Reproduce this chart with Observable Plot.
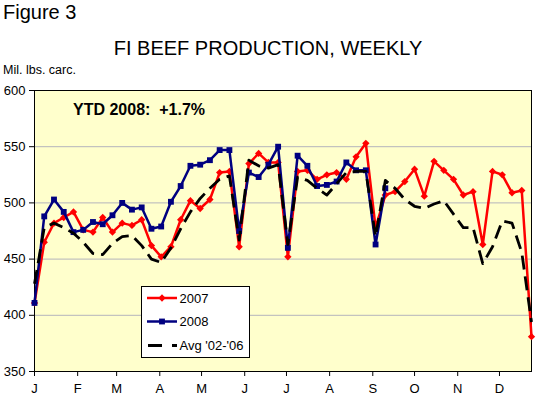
<!DOCTYPE html>
<html><head><meta charset="utf-8">
<script src="https://cdn.jsdelivr.net/npm/d3@7"></script>
<script src="https://cdn.jsdelivr.net/npm/@observablehq/plot@0.6"></script>
<style>
body{margin:0;background:#fff}
#chart{position:relative;width:539px;height:399px}
</style>
</head><body><div id="chart"></div>
<script>
// ---- data (Mil. lbs. carcass, weekly) ----
const monthLabels = ["J","F","M","A","M","J","J","A","S","O","N","D"];
const monthStartDays = [0,31,59,90,120,151,181,212,243,273,304,334];
const y2007 = [411,465,482,487,492,476,474,487,474,482,480,485,462,452,461,485,502,495,503,527,528,461,535,544,536,536,452,528,529,521,525,527,521,541,553,478,507,510,519,530,506,537,529,521,507,510,463,528,525,509,511,381];
const y2008 = [411,488,503,492,474,476,483,481,489,500,494,496,477,479,501,515,533,534,538,547,547,475,527,523,534,550,460,542,533,515,516,519,536,529,529,463,513];
const yAvg  = [428,478,482,478,473,465,455,454,464,470,471,462,450,447,460,477,492,504,513,521,524,467,538,533,531,534,463,523,520,513,507,517,527,528,528,470,520,513,503,497,495,499,502,490,478,478,446,461,484,482,456,394];
const yTicks = [350,400,450,500,550,600];
const gridValues = [400,450,500,550];
const seriesNames = ["2007","2008","Avg '02-'06"];
const ytdText = "YTD 2008:  +1.7%";

const rows = s => s.map((v,i) => ({week:i, value:v}));
const monthPos = monthStartDays.map(d => d/7);
const labelAt = new Map(monthPos.map((p,i) => [p, monthLabels[i]]));

const RED = "#ff0000", NAVY = "#000080";
const FONT = "'Liberation Sans', Arial, sans-serif";

const svg = Plot.plot({
  width: 539, height: 399,
  marginLeft: 34, marginRight: 8, marginTop: 90, marginBottom: 28,
  style: {fontFamily: FONT, fontSize: "13px", color: "#000", background: "#fff", overflow: "visible"},
  x: {domain: [0, 51]},
  y: {domain: [350, 600]},
  marks: [
    Plot.frame({fill: "#ffffcc", stroke: null}),
    Plot.ruleY(gridValues, {stroke: "#b4b4bc", strokeWidth: 1}),
    Plot.frame({stroke: "#000", strokeWidth: 1}),
    Plot.axisY({ticks: yTicks, tickSize: 5, tickPadding: 4, label: null, fontSize: 13}),
    Plot.axisX({ticks: monthPos, tickFormat: d => labelAt.get(d), tickSize: 5, tickPadding: 7, label: null, fontSize: 13}),
    Plot.line(rows(y2007), {x: "week", y: "value", stroke: RED, strokeWidth: 2.5}),
    Plot.dot(rows(y2007), {x: "week", y: "value", symbol: "diamond2", r: 3.3, fill: RED, stroke: null}),
    Plot.line(rows(y2008), {x: "week", y: "value", stroke: NAVY, strokeWidth: 2.5}),
    Plot.dot(rows(y2008), {x: "week", y: "value", symbol: "square", r: 3.3, fill: NAVY, stroke: null}),
    Plot.line(rows(yAvg), {x: "week", y: "value", stroke: "#000", strokeWidth: 2.8, strokeDasharray: "14,7", strokeLinecap: "butt"})
  ]
});
document.getElementById("chart").appendChild(svg);

const g = d3.select(svg).append("g").attr("font-family", FONT).attr("fill", "#000").attr("text-anchor", "start");
g.append("text").attr("x", 3).attr("y", 19).attr("font-size", 20).text("Figure 3");
g.append("text").attr("x", 268).attr("y", 54.5).attr("text-anchor", "middle").attr("font-size", 20).text("FI BEEF PRODUCTION, WEEKLY");
g.append("text").attr("x", 3).attr("y", 74).attr("font-size", 12.5).text("Mil. lbs. carc.");
g.append("text").attr("x", 73).attr("y", 115).attr("font-size", 16).attr("font-weight", "bold").style("white-space", "pre").text(ytdText);

// legend
const lg = g.append("g");
lg.append("rect").attr("x", 141.5).attr("y", 286.5).attr("width", 108).attr("height", 71).attr("fill", "#fff").attr("stroke", "#000");
const ly = [298, 321.5, 345.5];
lg.append("line").attr("x1", 147).attr("x2", 177).attr("y1", ly[0]).attr("y2", ly[0]).attr("stroke", RED).attr("stroke-width", 2.5);
lg.append("path").attr("d", d3.symbol(d3.symbolDiamond2, 34)()).attr("transform", `translate(162,${ly[0]})`).attr("fill", RED);
lg.append("line").attr("x1", 147).attr("x2", 177).attr("y1", ly[1]).attr("y2", ly[1]).attr("stroke", NAVY).attr("stroke-width", 2.5);
lg.append("path").attr("d", d3.symbol(d3.symbolSquare, 34)()).attr("transform", `translate(162,${ly[1]})`).attr("fill", NAVY);
lg.append("line").attr("x1", 148).attr("x2", 177).attr("y1", ly[2]).attr("y2", ly[2]).attr("stroke", "#000").attr("stroke-width", 2.8).attr("stroke-dasharray", "14,10");
seriesNames.forEach((n, i) => {
  lg.append("text").attr("x", 179.5).attr("y", ly[i]).attr("dy", "0.36em").attr("font-size", 13).text(n);
});
</script>
</body></html>
